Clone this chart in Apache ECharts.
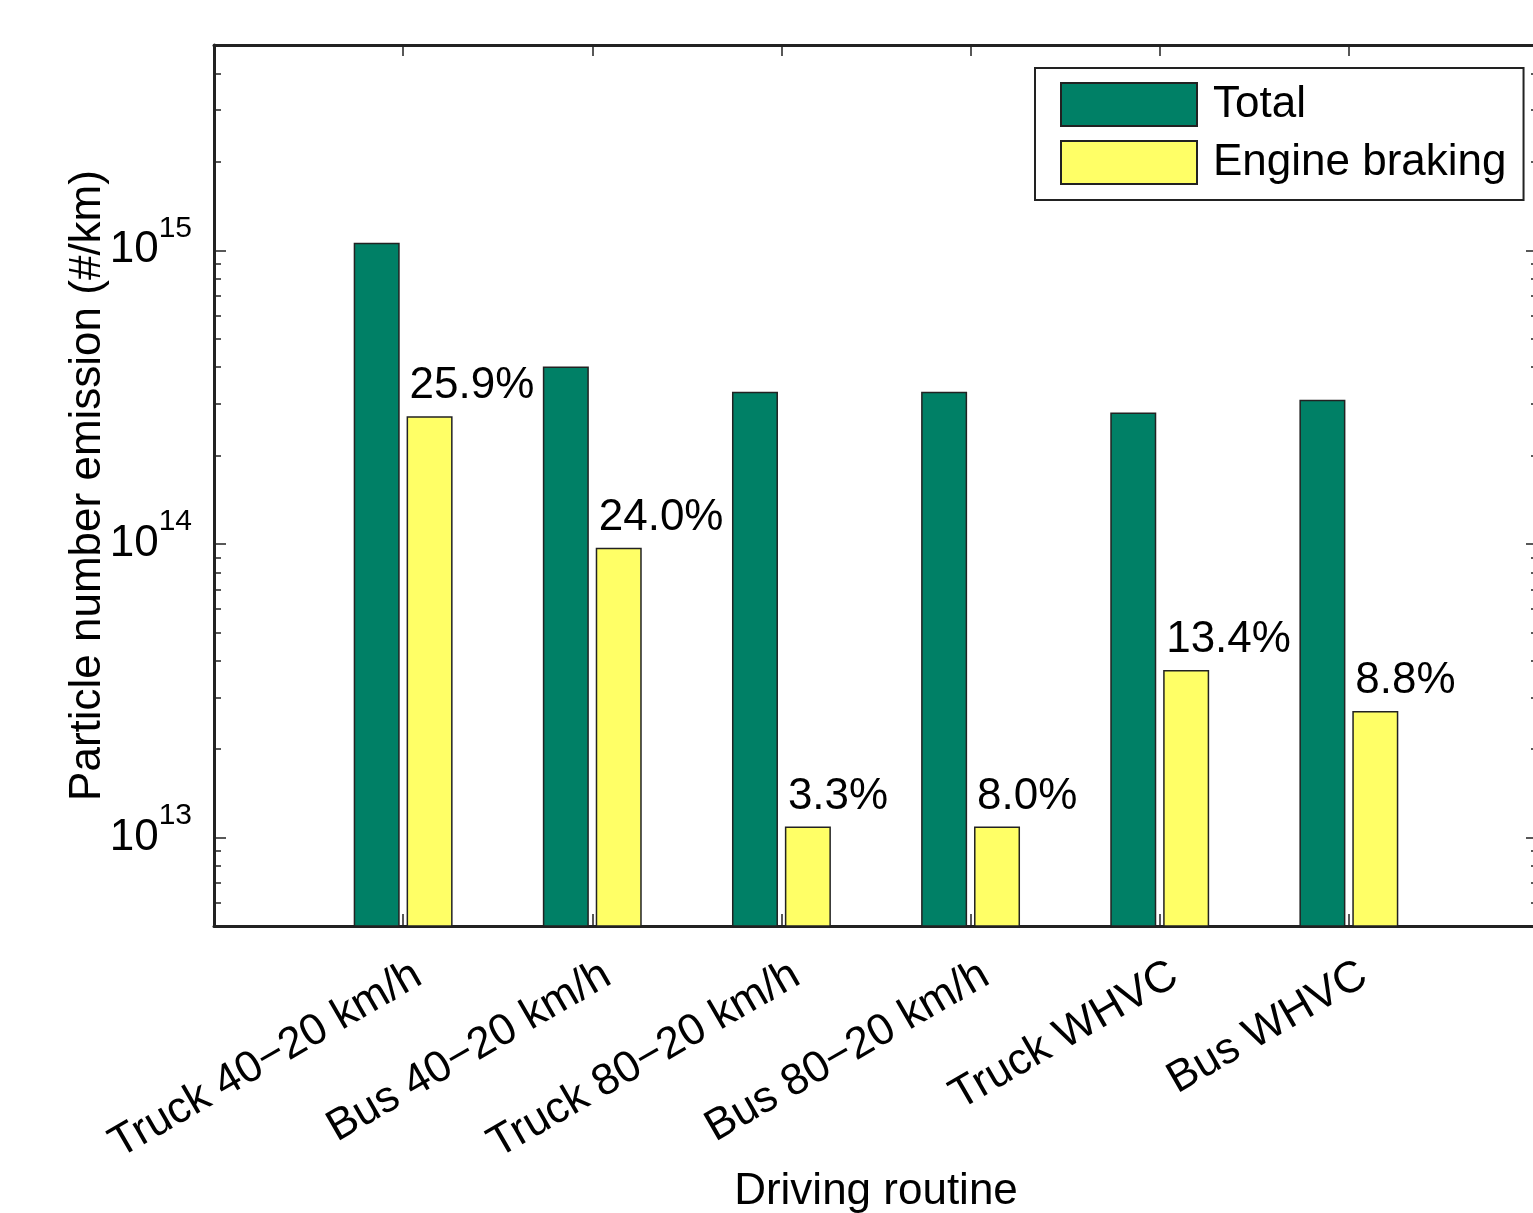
<!DOCTYPE html>
<html>
<head>
<meta charset="utf-8">
<title>Particle number emission by driving routine</title>
<script src="https://cdn.jsdelivr.net/npm/echarts@6/dist/echarts.min.js"></script>
<style>
  html, body { margin: 0; padding: 0; background: #ffffff; }
  #chart { width: 1533px; height: 1213px; }
</style>
</head>
<body>
<div id="chart"></div>
<script>
// Driving routines on the category axis
const routines = ['Truck 40\u221220 km/h', 'Bus 40\u221220 km/h', 'Truck 80\u221220 km/h',
                  'Bus 80\u221220 km/h', 'Truck WHVC', 'Bus WHVC'];
// Particle number emission (#/km)
const totalEmission = [1.06e15, 4.02e14, 3.30e14, 3.30e14, 2.80e14, 3.10e14];
const engineBraking = [2.72e14, 9.7e13, 1.09e13, 1.09e13, 3.72e13, 2.70e13];
// Share of the total that comes from engine braking
const brakingShare = ['25.9%', '24.0%', '3.3%', '8.0%', '13.4%', '8.8%'];
// Log axis ticks
const majorTicks = [1e13, 1e14, 1e15];
const minorTicks = [6e12, 7e12, 8e12, 9e12,
                    2e13, 3e13, 4e13, 5e13, 6e13, 7e13, 8e13, 9e13,
                    2e14, 3e14, 4e14, 5e14, 6e14, 7e14, 8e14, 9e14,
                    2e15, 3e15, 4e15];

const FONT = "'Liberation Sans', Arial, Helvetica, sans-serif";
const INK = '#222222';

// an empty slot on each side of the routines
const slots = [''].concat(routines, ['']);
const pad = arr => [null].concat(arr, [null]);

const chart = echarts.init(document.getElementById('chart'), null, { renderer: 'canvas' });

const lineStyle = { color: INK, width: 3 };
const tickStyle = { color: INK, width: 1.5 };

function powerLabel(value) {
  const exp = Math.round(Math.log10(value));
  return '{b|10}{s|' + exp + '}';
}

function logAxis(position, tickValues, tickLength, withLine, withLabels) {
  const axis = {
    type: 'log',
    logBase: 10,
    min: 5e12,
    max: 5e15,
    position: position,
    axisLine: { show: withLine, onZero: false, lineStyle: lineStyle },
    axisTick: { show: true, inside: true, length: tickLength, customValues: tickValues, lineStyle: tickStyle },
    axisLabel: { show: false },
    splitLine: { show: false },
    minorTick: { show: false }
  };
  if (withLabels) {
    axis.axisLabel = {
      show: true,
      customValues: majorTicks,
      margin: 22,
      formatter: powerLabel,
      color: '#000',
      fontFamily: FONT,
      rich: {
        b: { fontSize: 44, fontFamily: FONT, color: '#000' },
        s: { fontSize: 30, fontFamily: FONT, color: '#000', padding: [0, 0, 44, 0] }
      }
    };
    axis.name = 'Particle number emission (#/km)';
    axis.nameLocation = 'middle';
    axis.nameRotate = 90;
    axis.nameGap = 104;
    axis.nameMoveOverlap = false;
    axis.nameTextStyle = { fontSize: 44, fontFamily: FONT, color: '#000' };
  }
  return axis;
}

const option = {
  backgroundColor: '#ffffff',
  animation: false,
  textStyle: { fontFamily: FONT },
  grid: { left: 214, top: 45, width: 1324, height: 881, containLabel: false, outerBoundsMode: 'none' },
  legend: {
    orient: 'vertical',
    left: 1035,
    top: 68,
    padding: [14, 17, 15, 25],
    itemWidth: 136,
    itemHeight: 43,
    itemGap: 13,
    borderColor: INK,
    borderWidth: 2,
    backgroundColor: '#ffffff',
    selectedMode: false,
    icon: 'rect',
    textStyle: { fontSize: 44, fontFamily: FONT, color: '#000', padding: [0, 0, 0, 11], lineHeight: 43 },
    data: ['Total', 'Engine braking']
  },
  xAxis: [
    {
      type: 'category',
      data: slots,
      boundaryGap: false,
      position: 'bottom',
      axisLine: { show: true, onZero: false, lineStyle: lineStyle },
      axisTick: { show: true, inside: true, length: 12, interval: 0, lineStyle: tickStyle },
      axisLabel: {
        show: true, interval: 0, rotate: 30, margin: 20,
        verticalAlign: 'top', lineHeight: 60,
        fontSize: 44, fontFamily: FONT, color: '#000'
      },
      splitLine: { show: false },
      name: 'Driving routine',
      nameLocation: 'middle',
      nameGap: 244,
      nameMoveOverlap: false,
      nameTextStyle: { fontSize: 44, fontFamily: FONT, color: '#000' }
    },
    {
      type: 'category',
      data: slots,
      boundaryGap: false,
      position: 'top',
      axisLine: { show: true, onZero: false, lineStyle: lineStyle },
      axisTick: { show: true, inside: true, length: 11, interval: 0, lineStyle: tickStyle },
      axisLabel: { show: false },
      splitLine: { show: false }
    }
  ],
  yAxis: [
    logAxis('left', majorTicks, 12, true, true),
    logAxis('left', minorTicks, 7, false, false),
    logAxis('right', majorTicks, 12, true, false),
    logAxis('right', minorTicks, 7, false, false)
  ],
  series: [
    {
      name: 'Total',
      type: 'bar',
      xAxisIndex: 0,
      yAxisIndex: 0,
      data: pad(totalEmission),
      barWidth: 46,
      barGap: '15%',
      itemStyle: { color: '#008066', borderColor: INK, borderWidth: 1.5 }
    },
    {
      name: 'Engine braking',
      type: 'bar',
      xAxisIndex: 0,
      yAxisIndex: 0,
      data: pad(engineBraking),
      barWidth: 46,
      barGap: '15%',
      itemStyle: { color: '#FFFF66', borderColor: INK, borderWidth: 1.5 },
      label: {
        show: true,
        position: 'top',
        align: 'left',
        offset: [-20, 0],
        distance: 8,
        fontSize: 44,
        fontFamily: FONT,
        color: '#000',
        formatter: p => brakingShare[p.dataIndex - 1]
      }
    }
  ]
};

chart.setOption(option);
</script>
</body>
</html>
